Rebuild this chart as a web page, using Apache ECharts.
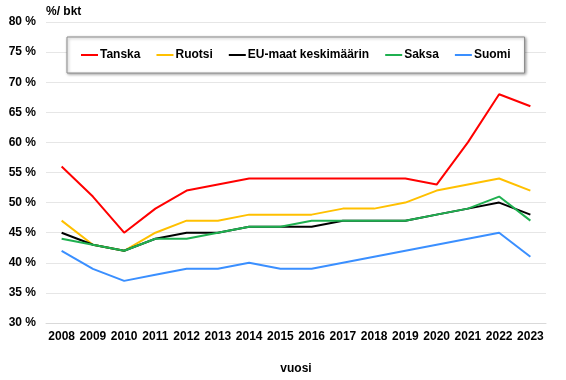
<!DOCTYPE html>
<html><head><meta charset="utf-8">
<script src="https://cdn.jsdelivr.net/npm/echarts@6/dist/echarts.min.js"></script>
<style>html,body{margin:0;padding:0;background:#fff}#c{width:566px;height:380px}</style>
</head><body><div id="c"></div>
<script>
const years = ['2008','2009','2010','2011','2012','2013','2014','2015','2016','2017','2018','2019','2020','2021','2022','2023'];
const tanska = [56,51,45,49,52,53,54,54,54,54,54,54,53,60,68,66];
const ruotsi = [47,43,42,45,47,47,48,48,48,49,49,50,52,53,54,52];
const eu     = [45,43,42,44,45,45,46,46,46,47,47,47,48,49,50,48];
const saksa  = [44,43,42,44,44,45,46,46,47,47,47,47,48,49,51,47];
const suomi  = [42,39,37,38,39,39,40,39,39,40,41,42,43,44,45,41];
const yTicks = [30,35,40,45,50,55,60,65,70,75,80];

const font = 'Liberation Sans, Arial, sans-serif';
const chart = echarts.init(document.getElementById('c'));
function s(name, data, color){
  return {name, type:'line', data, symbol:'none', lineStyle:{color, width:2}, itemStyle:{color}, animation:false};
}
chart.setOption({
  animation:false,
  textStyle:{fontFamily:font},
  legend:{
    left:67, top:37, padding:[12,14], itemGap:16, itemWidth:17, itemHeight:2, icon:'rect',
    borderColor:'#8c8c8c', borderWidth:1, backgroundColor:'#fff',
    shadowColor:'rgba(0,0,0,0.35)', shadowBlur:3, shadowOffsetX:1, shadowOffsetY:1,
    textStyle:{fontFamily:font, fontSize:12, fontWeight:'bold', color:'#000', padding:[0,0,0,-3]},
    data:['Tanska','Ruotsi','EU-maat keskimäärin','Saksa','Suomi']
  },
  grid:{left:46, right:20, top:22, bottom:53},
  xAxis:{
    type:'category', data:years, boundaryGap:true,
    name:'vuosi', nameLocation:'middle', nameGap:40,
    nameTextStyle:{fontFamily:font, fontSize:12, fontWeight:'bold', color:'#000'},
    axisLine:{show:true, lineStyle:{color:'#d9d9d9'}}, axisTick:{show:false},
    axisLabel:{fontFamily:font, fontSize:12, fontWeight:'bold', color:'#000', margin:8, interval:0}
  },
  yAxis:{
    type:'value', min:yTicks[0], max:yTicks[yTicks.length-1], interval:5,
    name:'%/ bkt', nameLocation:'end', nameGap:4,
    nameTextStyle:{fontFamily:font, fontSize:12, fontWeight:'bold', color:'#000', align:'left', verticalAlign:'bottom'},
    axisLine:{show:false}, axisTick:{show:false},
    splitLine:{lineStyle:{color:'#e6e6e6', width:1}},
    axisLabel:{fontFamily:font, fontSize:12, fontWeight:'bold', color:'#000', margin:10, formatter:v=>v+' %'}
  },
  series:[
    s('Tanska', tanska, '#ff0000'),
    s('Ruotsi', ruotsi, '#ffc000'),
    s('EU-maat keskimäärin', eu, '#000000'),
    s('Saksa', saksa, '#1fb050'),
    s('Suomi', suomi, '#3a8fff')
  ]
});
</script></body></html>
